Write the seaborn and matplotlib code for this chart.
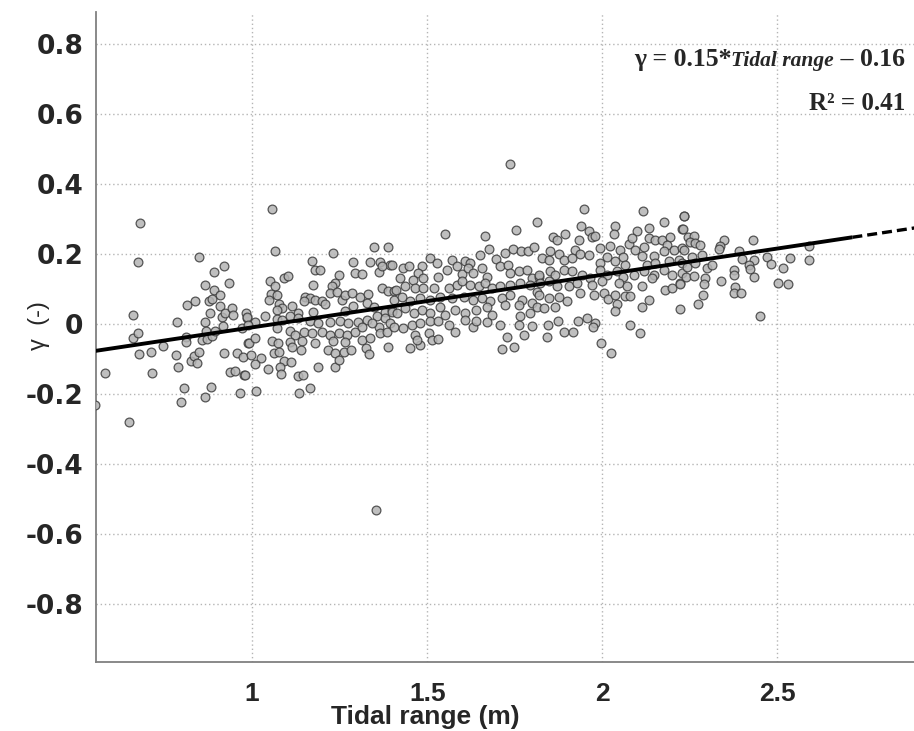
import matplotlib
matplotlib.use("Agg")
import matplotlib.pyplot as plt
import seaborn as sns
import pandas as pd

# ---------------- data ----------------
region_a = [(0.68, 0.288), (0.675, 0.176), (0.847, 0.192), (0.659, 0.024), (0.661, -0.039), (0.675, -0.027),
            (0.678, -0.085), (0.711, -0.081), (0.579, -0.141), (0.714, -0.139), (0.551, -0.232), (0.649, -0.279),
            (0.745, -0.062), (0.785, 0.004), (0.783, -0.09), (0.789, -0.122), (0.804, -0.183), (0.796, -0.223),
            (0.815, 0.053), (0.838, 0.065), (0.81, -0.038), (0.811, -0.053), (0.825, -0.106), (0.835, -0.093),
            (0.842, -0.111), (0.848, -0.08), (0.866, -0.208), (0.883, -0.18), (0.866, 0.111), (0.891, 0.149),
            (0.92, 0.164), (0.892, 0.097), (0.909, 0.081), (0.933, 0.117), (0.877, 0.065), (0.885, 0.07),
            (0.909, 0.052), (0.88, 0.031), (0.865, 0.004), (0.868, -0.019), (0.858, -0.046), (0.872, -0.044),
            (0.885, -0.036), (0.894, -0.019), (0.913, 0.019), (0.922, 0.032), (0.918, -0.005), (0.942, 0.046),
            (0.945, 0.026), (0.92, -0.082), (0.937, -0.137), (0.951, -0.134), (0.966, -0.198), (0.977, -0.147),
            (0.956, -0.082), (0.975, -0.096), (0.982, 0.032), (0.987, -0.055), (0.984, 0.018), (0.971, -0.012)]

region_b = [(1.056, 0.328), (1.066, 0.209), (1.232, 0.201), (1.347, 0.219), (1.388, 0.219), (1.172, 0.179),
            (1.18, 0.154), (1.193, 0.154), (1.289, 0.177), (1.337, 0.176), (1.366, 0.176), (1.294, 0.146),
            (1.315, 0.143), (1.394, 0.167), (1.361, 0.149), (1.371, 0.164), (1.091, 0.131), (1.102, 0.137),
            (1.051, 0.121), (1.064, 0.109), (1.054, 0.086), (1.049, 0.068), (1.071, 0.081), (1.078, 0.057),
            (1.085, 0.045), (1.07, 0.04), (1.113, 0.052), (1.175, 0.111), (1.247, 0.14), (1.237, 0.116),
            (1.228, 0.107), (1.223, 0.088), (1.242, 0.092), (1.256, 0.069), (1.266, 0.083), (1.285, 0.088),
            (1.309, 0.078), (1.332, 0.086), (1.371, 0.102), (1.389, 0.095), (1.404, 0.095), (1.151, 0.076),
            (1.166, 0.073), (1.18, 0.069), (1.199, 0.064), (1.209, 0.056), (1.147, 0.064), (1.132, 0.032),
            (1.175, 0.035), (1.266, 0.038), (1.289, 0.052), (1.328, 0.059), (1.349, 0.049), (1.38, 0.035),
            (1.399, 0.04), (0.985, 0.02), (1.007, 0.005), (0.988, -0.003), (1.037, 0.021), (1.07, 0.013),
            (1.085, 0.011), (1.109, 0.021), (1.132, 0.016), (1.166, 0.007), (1.189, 0.002), (1.223, 0.004),
            (1.251, 0.007), (1.275, 0.002), (1.302, 0.005), (1.328, 0.011), (1.356, 0.021), (1.38, 0.016),
            (1.394, 0.002), (1.361, -0.008), (1.342, 0.002), (1.07, -0.012), (1.109, -0.019), (1.123, -0.031),
            (1.149, -0.022), (1.171, -0.027), (1.199, -0.022), (1.223, -0.031), (1.247, -0.027), (1.27, -0.031),
            (1.294, -0.022), (1.313, -0.008), (1.366, -0.025), (1.385, -0.022), (0.99, -0.055), (1.009, -0.041),
            (1.056, -0.05), (1.075, -0.055), (1.109, -0.053), (1.113, -0.065), (1.142, -0.05), (1.18, -0.055),
            (1.232, -0.05), (1.266, -0.053), (1.313, -0.046), (1.337, -0.041), (0.996, -0.089), (1.026, -0.098),
            (1.009, -0.114), (1.061, -0.084), (1.078, -0.079), (1.092, -0.106), (1.111, -0.108), (1.139, -0.076),
            (1.218, -0.074), (1.237, -0.084), (1.261, -0.079), (1.283, -0.074), (1.325, -0.069), (1.334, -0.086),
            (1.389, -0.065), (0.98, -0.146), (1.045, -0.13), (1.08, -0.124), (1.083, -0.143), (1.132, -0.149),
            (1.144, -0.146), (1.187, -0.124), (1.237, -0.124), (1.249, -0.103), (1.012, -0.191), (1.134, -0.197),
            (1.166, -0.182), (1.354, -0.531)]

region_c = [(1.737, 0.456), (1.551, 0.257), (1.666, 0.251), (1.754, 0.267), (1.813, 0.291), (1.509, 0.188),
            (1.528, 0.173), (1.571, 0.183), (1.609, 0.178), (1.623, 0.173), (1.65, 0.196), (1.677, 0.213),
            (1.697, 0.185), (1.723, 0.202), (1.746, 0.213), (1.768, 0.209), (1.789, 0.207), (1.806, 0.219),
            (1.399, 0.169), (1.432, 0.159), (1.449, 0.164), (1.485, 0.164), (1.475, 0.145), (1.423, 0.131),
            (1.459, 0.124), (1.489, 0.131), (1.532, 0.135), (1.556, 0.154), (1.585, 0.164), (1.599, 0.143),
            (1.615, 0.159), (1.632, 0.145), (1.656, 0.159), (1.671, 0.135), (1.708, 0.164), (1.732, 0.169),
            (1.737, 0.145), (1.761, 0.15), (1.785, 0.154), (1.799, 0.131), (1.818, 0.135), (1.411, 0.097),
            (1.437, 0.107), (1.466, 0.102), (1.489, 0.102), (1.518, 0.102), (1.561, 0.102), (1.585, 0.111),
            (1.599, 0.121), (1.623, 0.111), (1.647, 0.107), (1.666, 0.116), (1.685, 0.102), (1.708, 0.107),
            (1.737, 0.111), (1.766, 0.116), (1.794, 0.111), (1.813, 0.092), (1.404, 0.069), (1.428, 0.078),
            (1.451, 0.064), (1.48, 0.073), (1.509, 0.069), (1.537, 0.078), (1.571, 0.073), (1.604, 0.078),
            (1.632, 0.069), (1.656, 0.073), (1.68, 0.064), (1.713, 0.073), (1.737, 0.083), (1.77, 0.069),
            (1.799, 0.059), (1.399, 0.035), (1.413, 0.031), (1.437, 0.045), (1.461, 0.031), (1.485, 0.04),
            (1.509, 0.031), (1.537, 0.049), (1.551, 0.026), (1.58, 0.04), (1.609, 0.031), (1.64, 0.04),
            (1.671, 0.049), (1.685, 0.026), (1.723, 0.054), (1.761, 0.054), (1.766, 0.023), (1.794, 0.031),
            (1.813, 0.049), (1.404, -0.008), (1.432, -0.012), (1.456, -0.003), (1.48, 0.002), (1.509, 0.007),
            (1.532, 0.007), (1.561, -0.003), (1.58, -0.022), (1.609, 0.011), (1.632, -0.008), (1.64, 0.007),
            (1.671, 0.005), (1.708, -0.003), (1.761, -0.003), (1.799, -0.005), (1.775, -0.031), (1.728, -0.038),
            (1.713, -0.071), (1.749, -0.067), (1.451, -0.069), (1.48, -0.06), (1.466, -0.031), (1.504, -0.025),
            (1.514, -0.046), (1.532, -0.043), (1.47, -0.046)]

region_d = [(1.947, 0.328), (2.116, 0.321), (2.175, 0.291), (2.232, 0.307), (1.894, 0.257), (1.94, 0.278),
            (1.963, 0.264), (2.037, 0.28), (2.032, 0.257), (2.099, 0.264), (2.132, 0.273), (2.228, 0.271),
            (1.858, 0.248), (1.871, 0.238), (1.932, 0.238), (1.971, 0.248), (1.98, 0.251), (2.075, 0.229),
            (2.085, 0.245), (2.132, 0.245), (2.151, 0.24), (2.17, 0.238), (2.194, 0.248), (2.185, 0.226),
            (1.851, 0.207), (1.875, 0.2), (1.923, 0.211), (1.937, 0.2), (1.961, 0.197), (1.994, 0.216),
            (2.023, 0.221), (2.013, 0.192), (2.051, 0.211), (2.06, 0.192), (2.094, 0.211), (2.118, 0.219),
            (2.113, 0.194), (2.147, 0.194), (2.175, 0.207), (2.204, 0.211), (2.228, 0.216), (1.828, 0.188),
            (1.847, 0.183), (1.89, 0.183), (1.913, 0.188), (1.994, 0.173), (2.037, 0.178), (2.066, 0.169),
            (2.128, 0.169), (2.151, 0.173), (2.189, 0.178), (2.218, 0.183), (1.818, 0.14), (1.851, 0.15),
            (1.866, 0.14), (1.89, 0.154), (1.913, 0.15), (1.942, 0.14), (1.966, 0.131), (1.994, 0.154),
            (2.013, 0.14), (2.042, 0.15), (2.06, 0.135), (2.089, 0.14), (2.118, 0.15), (2.147, 0.14),
            (2.175, 0.154), (2.199, 0.14), (2.228, 0.145), (1.823, 0.116), (1.847, 0.121), (1.871, 0.107),
            (1.904, 0.107), (1.928, 0.116), (1.971, 0.111), (2.0, 0.121), (2.047, 0.116), (2.071, 0.107),
            (2.113, 0.107), (2.142, 0.131), (2.18, 0.097), (2.199, 0.102), (2.223, 0.116), (1.818, 0.083),
            (1.847, 0.073), (1.875, 0.078), (1.899, 0.064), (1.937, 0.088), (1.975, 0.083), (2.004, 0.088),
            (2.016, 0.071), (2.037, 0.083), (2.066, 0.08), (2.08, 0.08), (2.042, 0.057), (2.037, 0.037),
            (2.113, 0.049), (2.132, 0.067), (2.221, 0.042), (1.832, 0.045), (1.866, 0.048), (1.93, 0.009),
            (1.956, 0.016), (1.978, 0.002), (1.972, -0.008), (1.873, 0.009), (1.845, -0.003), (1.89, -0.022),
            (1.915, -0.022), (1.843, -0.038), (2.08, -0.003), (2.107, -0.025), (1.996, -0.055), (2.026, -0.082)]

region_e = [(2.234, 0.309), (2.23, 0.271), (2.244, 0.248), (2.261, 0.251), (2.251, 0.235), (2.266, 0.23),
            (2.28, 0.226), (2.347, 0.24), (2.337, 0.221), (2.332, 0.213), (2.43, 0.24), (2.232, 0.211),
            (2.256, 0.192), (2.285, 0.197), (2.389, 0.209), (2.399, 0.185), (2.432, 0.183), (2.47, 0.191),
            (2.482, 0.171), (2.537, 0.188), (2.589, 0.221), (2.591, 0.181), (2.228, 0.173), (2.242, 0.162),
            (2.266, 0.173), (2.299, 0.159), (2.313, 0.169), (2.418, 0.169), (2.423, 0.156), (2.375, 0.154),
            (2.377, 0.14), (2.516, 0.16), (2.24, 0.135), (2.261, 0.137), (2.294, 0.131), (2.291, 0.114),
            (2.432, 0.135), (2.339, 0.123), (2.223, 0.114), (2.502, 0.116), (2.531, 0.114), (2.38, 0.105),
            (2.375, 0.089), (2.396, 0.088), (2.287, 0.081), (2.273, 0.056), (2.449, 0.023)]

# regression line:  gamma = slope * tidal range + intercept
fit_slope = 0.15
fit_intercept = -0.16
fit_solid_range = [0.55, 2.714]
fit_dashed_range = [2.714, 2.9]

x_ticks = [1, 1.5, 2, 2.5]
x_tick_labels = ["1", "1.5", "2", "2.5"]
y_ticks = [-0.8, -0.6, -0.4, -0.2, 0, 0.2, 0.4, 0.6, 0.8]
y_tick_labels = ["-0.8", "-0.6", "-0.4", "-0.2", "0", "0.2", "0.4", "0.6", "0.8"]

# ---------------- build table ----------------
points = region_a + region_b + region_c + region_d + region_e
df = pd.DataFrame(points, columns=["tidal_range", "gamma"])

sns.set_style("white")

fig = plt.figure(figsize=(9.14, 7.31), dpi=100)
ax = fig.add_axes([0.105, 0.094, 0.895, 0.89])

ax.set_xlim(0.554, 2.89)
ax.set_ylim(-0.966, 0.891)

ax.grid(True, color="#b5b5b5", linestyle=(0, (1, 2)), linewidth=1.0)
ax.set_axisbelow(True)

sns.scatterplot(data=df, x="tidal_range", y="gamma", ax=ax, s=40,
                color="#b4b4b4", edgecolor="#3c3c3c", linewidth=0.9, alpha=0.85,
                legend=False, zorder=3)

xs = fit_solid_range
ax.plot(xs, [fit_slope * v + fit_intercept for v in xs], color="black", lw=2.8,
        solid_capstyle="butt", zorder=4)
xd = fit_dashed_range
ax.plot(xd, [fit_slope * v + fit_intercept for v in xd], color="black", lw=2.4,
        linestyle=(0, (3, 1.5)), zorder=4)

ax.set_xticks(x_ticks)
ax.set_xticklabels(x_tick_labels)
ax.set_yticks(y_ticks)
ax.set_yticklabels(y_tick_labels)

for lab in ax.get_yticklabels():
    lab.set_fontfamily("DejaVu Sans")
    lab.set_fontweight("bold")
    lab.set_fontsize(19)
for lab in ax.get_xticklabels():
    lab.set_fontfamily("Liberation Sans")
    lab.set_fontweight("bold")
    lab.set_fontsize(19)

ax.tick_params(axis="both", direction="in", length=5, width=1, color="#808080")
ax.tick_params(axis="y", pad=9)
ax.tick_params(axis="x", pad=14)

for side in ["top", "right"]:
    ax.spines[side].set_visible(False)
for side in ["left", "bottom"]:
    ax.spines[side].set_color("#808080")
    ax.spines[side].set_linewidth(1.3)

ax.set_xlabel("Tidal range (m)", fontsize=19, fontweight="bold", fontfamily="Liberation Sans")
ax.xaxis.set_label_coords(0.402, -0.066)
ax.set_ylabel("γ  (-)", fontsize=17, fontfamily="Liberation Sans")
ax.yaxis.set_label_coords(-0.056, 0.518)

# equation annotation, right aligned
serif = "Liberation Serif"
t3 = ax.text(0.989, 0.917, " – 0.16", transform=ax.transAxes, ha="right", va="baseline",
             fontsize=18.5, fontweight="bold", fontfamily=serif, zorder=5)
t2 = ax.annotate("Tidal range", xy=(0, 0), xycoords=t3, ha="right", va="bottom",
                 fontsize=15.5, fontweight="bold", fontstyle="italic", fontfamily=serif, zorder=5)
t1 = ax.annotate("γ = 0.15*", xy=(0, 0), xycoords=t2, ha="right", va="bottom",
                 fontsize=18.5, fontweight="bold", fontfamily=serif, zorder=5)
ax.text(0.989, 0.849, "R² = 0.41", transform=ax.transAxes, ha="right", va="baseline",
        fontsize=18, fontweight="bold", fontfamily=serif, zorder=5)

fig.savefig("out.png", dpi=100, facecolor="white")
